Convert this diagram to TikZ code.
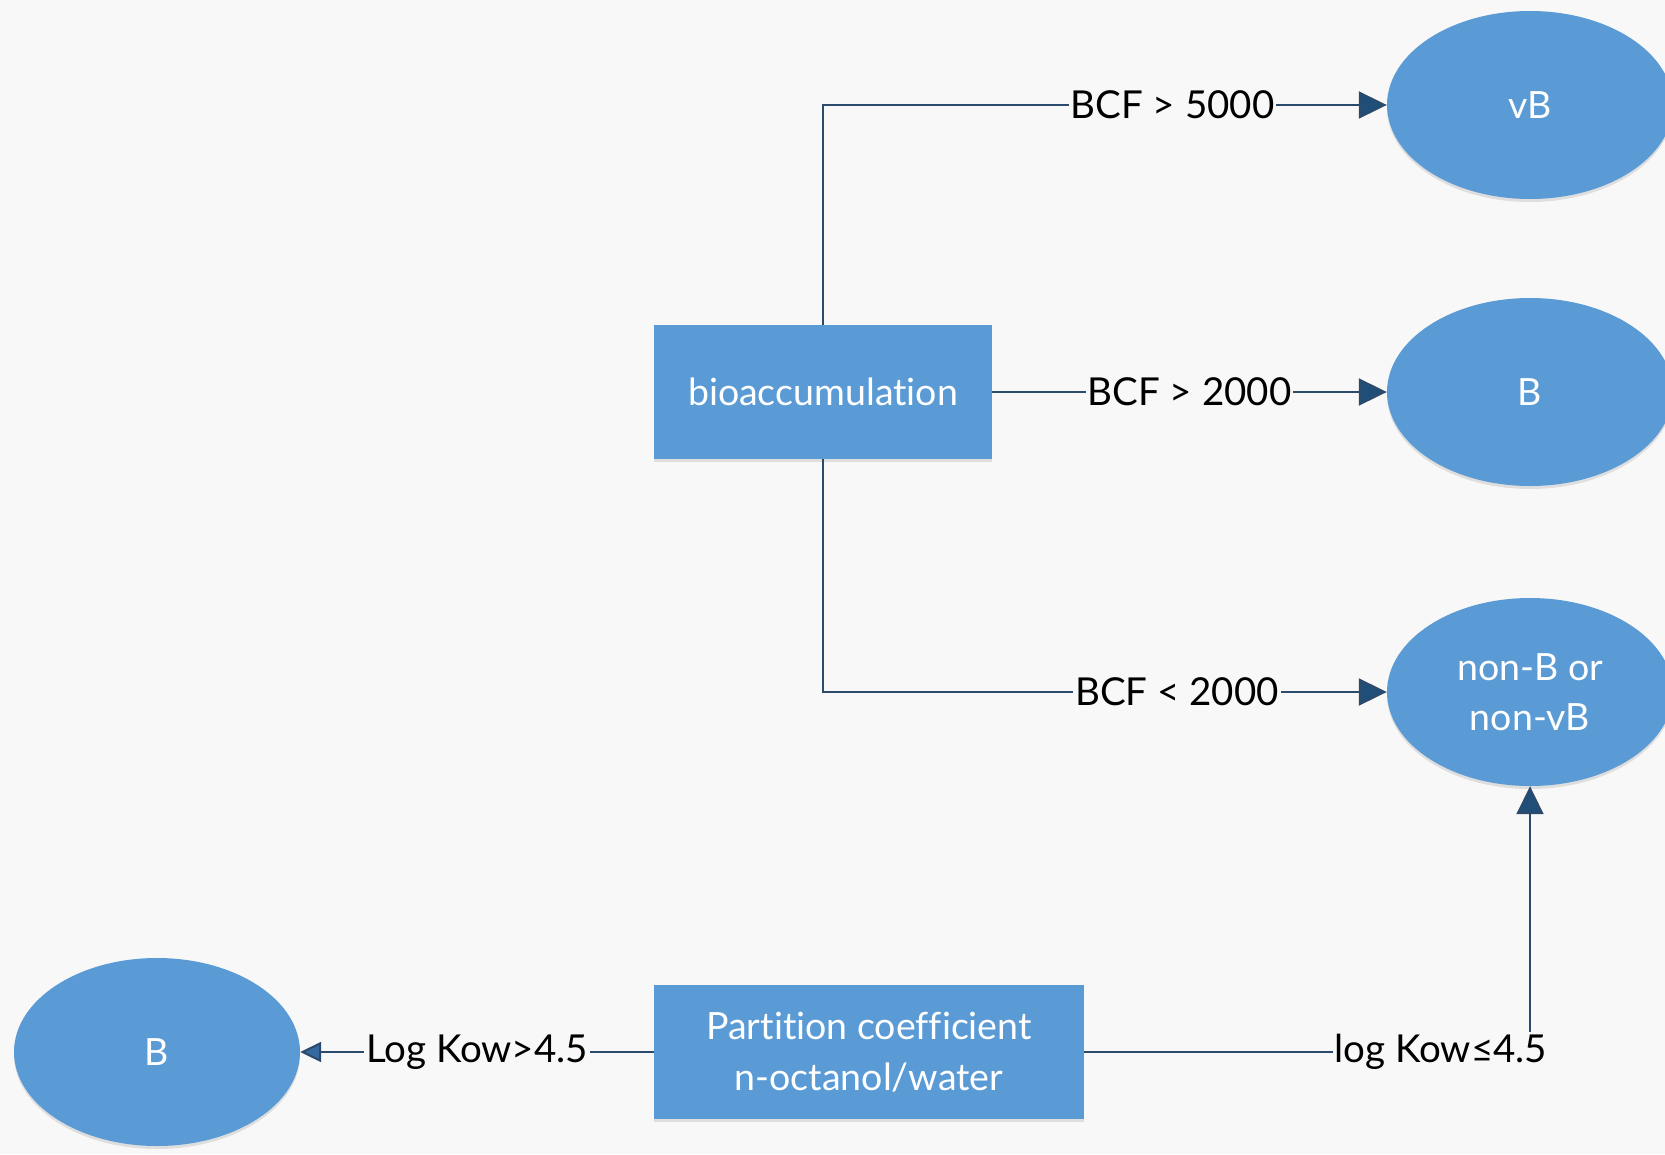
\documentclass[tikz,border=0pt]{standalone}
\usepackage{fontspec}
\setmainfont{Lato}[Ligatures=NoCommon]
\usetikzlibrary{shapes.geometric,arrows.meta,shadows}
\definecolor{bgc}{HTML}{F8F8F8}
\definecolor{boxblue}{HTML}{5B9BD5}
\definecolor{linec}{HTML}{2C4A6B}
\definecolor{tipc}{HTML}{1F4E79}
\definecolor{tiplight}{HTML}{3569A0}
\begin{document}
\begin{tikzpicture}[x=1pt,y=-1pt,
  shade/.style={drop shadow={shadow xshift=0pt,shadow yshift=-3pt,opacity=0.10,fill=black}},
  stepbox/.style={rectangle,fill=boxblue,text=white,align=center,inner sep=0pt,
    font=\fontsize{37.5}{51}\selectfont,shade},
  result/.style={ellipse,fill=boxblue,text=white,align=center,inner sep=0pt,
    minimum width=286pt,minimum height=188pt,font=\fontsize{37.5}{50}\selectfont,shade},
  conn/.style={draw=linec,line width=2pt,-{Triangle[length=28pt,width=27pt,fill=tipc]}},
  connsmall/.style={draw=linec,line width=2pt,-{Triangle[length=21pt,width=20pt,fill=tiplight]}},
  lbl/.style={fill=bgc,text=black,inner sep=2pt,font=\fontsize{38.5}{46}\selectfont}
]
% canvas
\fill[bgc] (0,0) rectangle (1665,1154);
\clip (0,0) rectangle (1665,1154);

% decision boxes
\node[stepbox,minimum width=338pt,minimum height=134pt] (bio) at (823,392) {bioaccumulation};
\node[stepbox,minimum width=430pt,minimum height=134pt] (part) at (869,1052)
  {Partition coefficient\\n-octanol/water};

% outcomes
\node[result] (vB) at (1530,105) {vB};
\node[result] (Bbcf) at (1530,392) {B};
\node[result] (nonB) at (1530,692) {non-B or\\non-vB};
\node[result] (Bkow) at (157,1052) {B};

% bioaccumulation branches
\draw[conn] (bio.north) |- node[lbl,pos=0.81] {BCF > 5000} (vB.west);
\draw[conn] (bio.east) -- node[lbl,pos=0.5] {BCF > 2000} (Bbcf.west);
\draw[conn] (bio.south) |- node[lbl,pos=0.814] {BCF < 2000} (nonB.west);

% partition coefficient branches
\draw[connsmall] (part.west) -- node[lbl,pos=0.5] {Log Kow>4.5} (Bkow.east);
\draw[conn] (part.east) -| node[lbl,pos=0.4] {log Kow≤4.5} (nonB.south);
\end{tikzpicture}
\end{document}
